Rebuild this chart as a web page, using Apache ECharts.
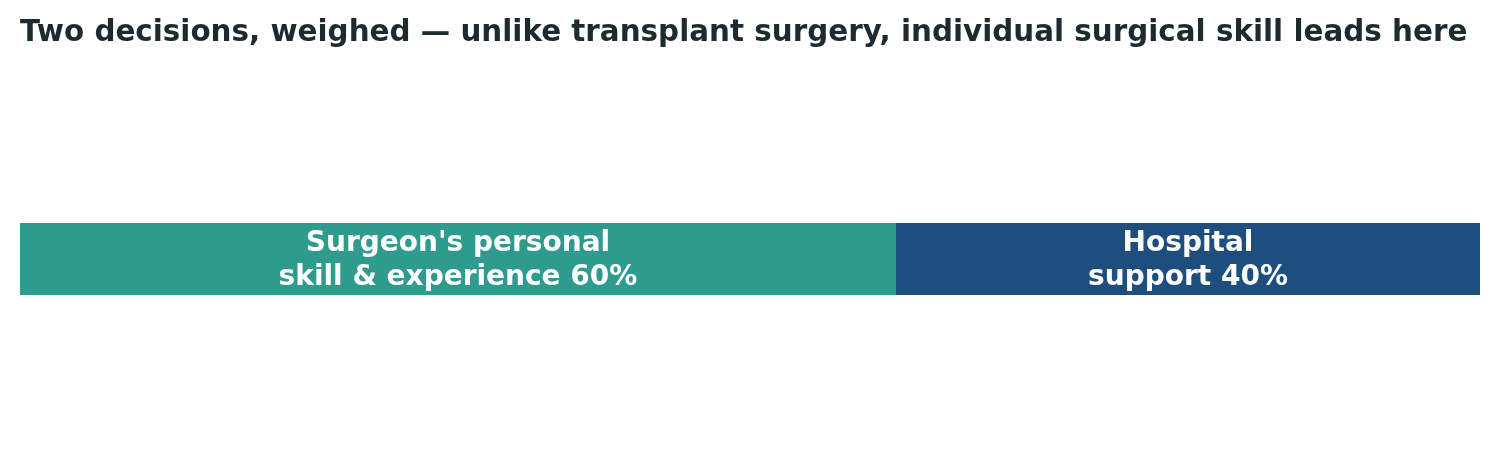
<!DOCTYPE html>
<html>
<head>
<meta charset="utf-8">
<script src="https://cdn.jsdelivr.net/npm/echarts@6/dist/echarts.min.js"></script>
<style>
  html, body { margin: 0; padding: 0; background: #fff; }
  #chart { width: 1500px; height: 458px; }
</style>
</head>
<body>
<div id="chart"></div>
<script>
var categories = ['Decision'];
var seriesNames = ["Surgeon's personal\nskill & experience", 'Hospital\nsupport'];
var surgeonShare = [60];
var hospitalShare = [40];

var FONT = "'DejaVu Sans', sans-serif";
var chart = echarts.init(document.getElementById('chart'));

function labelFor(name) {
    return {
        show: true,
        position: 'inside',
        offset: [0, 2],
        color: '#ffffff',
        fontFamily: FONT,
        fontWeight: 'bold',
        fontSize: 28,
        lineHeight: 34,
        formatter: function (p) { return name + ' ' + p.value + '%'; }
    };
}

var option = {
    animation: false,
    title: {
        text: 'Two decisions, weighed \u2014 unlike transplant surgery, individual surgical skill leads here',
        left: 15,
        top: 14,
        textStyle: {
            fontFamily: FONT,
            fontWeight: 'bold',
            fontSize: 29.4,
            color: '#1d2a2f'
        }
    },
    grid: { left: 20, right: 20, top: 223, height: 72 },
    xAxis: { type: 'value', min: 0, max: 100, show: false },
    yAxis: { type: 'category', data: categories, show: false },
    series: [
        {
            name: seriesNames[0],
            type: 'bar',
            stack: 'total',
            barWidth: '100%',
            data: surgeonShare,
            itemStyle: { color: '#2e9b8e' },
            label: labelFor(seriesNames[0])
        },
        {
            name: seriesNames[1],
            type: 'bar',
            stack: 'total',
            barWidth: '100%',
            data: hospitalShare,
            itemStyle: { color: '#1e4e7d' },
            label: labelFor(seriesNames[1])
        }
    ]
};

chart.setOption(option);
</script>
</body>
</html>
